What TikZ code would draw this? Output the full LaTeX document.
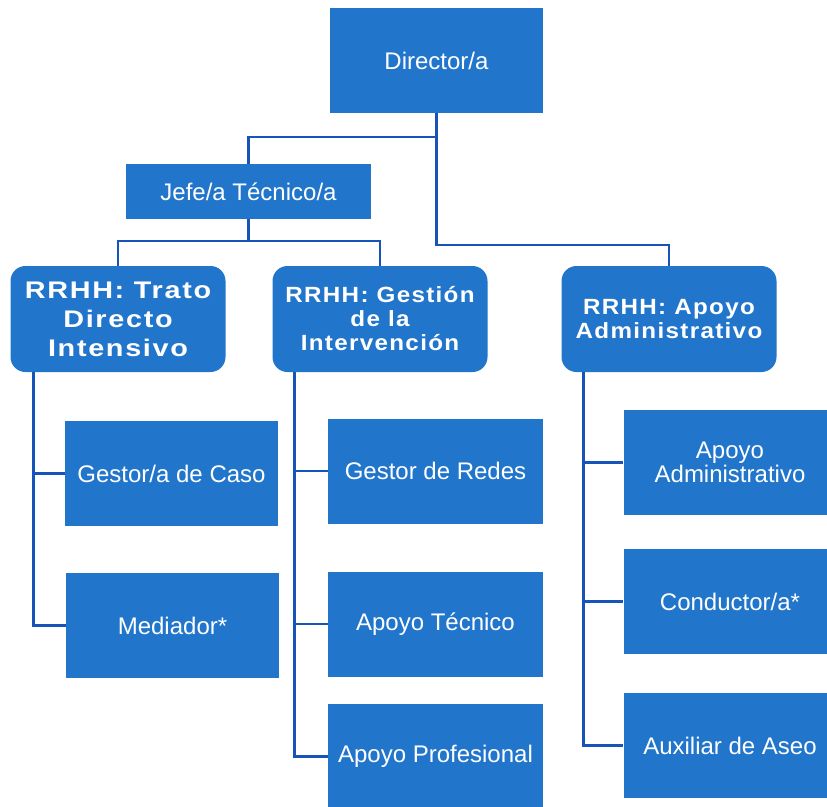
\documentclass[tikz,border=0pt]{standalone}
\usepackage{fontspec}
\setmainfont{Liberation Sans}
\newfontfamily\headfont[FakeStretch=1.2, LetterSpace=7]{Liberation Sans Bold}
\newfontfamily\subheadfont[FakeStretch=1.1, LetterSpace=6]{Liberation Sans Bold}
\usepackage{xcolor}
\usepackage{tikz}
\usetikzlibrary{positioning}
\definecolor{boxblue}{RGB}{33, 118, 204}
\definecolor{lineblue}{RGB}{22, 84, 186}

\tikzset{
  box/.style={fill=boxblue, text=white, inner sep=0pt, align=center,
    minimum width=213pt, minimum height=105pt,
    font=\fontsize{24}{24}\selectfont},
  headbox/.style={box, rounded corners=15pt, minimum width=215pt, minimum height=106pt},
  conn/.style={draw=lineblue, line width=2.5pt}
}

\begin{document}
\begin{tikzpicture}[x=1pt, y=-1pt]
            \clip (0,0) rectangle (827,806);
            \fill[white] (0,0) rectangle (827,806);

            % Top levels
            \node[box] (dir) at (436.5,60.5) {Director/a};
            \node[box, minimum width=245pt, minimum height=55pt] (jefe) at (248.5,191.5) {Jefe/a Técnico/a};

            % Human resources areas
            \node[headbox, font=\headfont\fontsize{24}{29}\selectfont] (trato) at (118,319) {RRHH: Trato\\Directo\\Intensivo};
            \node[headbox, font=\subheadfont\fontsize{22}{24}\selectfont] (gestion) at (380,319) {RRHH: Gestión\\de la\\Intervención};
            \node[headbox, font=\subheadfont\fontsize{22}{24}\selectfont] (apoyo) at (669,319) {RRHH: Apoyo\\Administrativo};

            % Roles
            \node[box] (caso) at (171.5,473.5) {Gestor/a de Caso};
            \node[box] (mediador) at (172.5,625.5) {Mediador*};

            \node[box, minimum width=215pt] (redes) at (435.5,471) {Gestor de Redes};
            \node[box, minimum width=215pt] (tecnico) at (435.5,624) {Apoyo Técnico};
            \node[box, minimum width=215pt] (profesional) at (435.5,756.5) {Apoyo Profesional};

            \node[box] (admin) at (730,462.5) {Apoyo\\Administrativo};
            \node[box] (conductor) at (730,601.5) {Conductor/a*};
            \node[box] (aseo) at (730,745.5) {Auxiliar de Aseo};

            % Connectors
            \draw[conn] (dir.south) -- ++(0,132) -| (apoyo.north);
            \draw[conn] (dir.south) ++(0,24) -| (jefe.north);
            \draw[conn] (jefe.south) -- ++(0,22) coordinate (bar);
            \draw[conn] (trato.north) |- (bar) -| (gestion.north);

            \draw[conn] ([xshift=23pt]trato.south west) |- (mediador.west);
            \draw[conn] ([xshift=23pt]trato.south west) |- (caso.west);

            \draw[conn] ([xshift=22pt]gestion.south west) |- (profesional.west);
            \draw[conn] ([xshift=22pt]gestion.south west) |- (tecnico.west);
            \draw[conn] ([xshift=22pt]gestion.south west) |- (redes.west);

            \draw[conn] ([xshift=22pt]apoyo.south west) |- (aseo.west);
            \draw[conn] ([xshift=22pt]apoyo.south west) |- (conductor.west);
            \draw[conn] ([xshift=22pt]apoyo.south west) |- (admin.west);
        \end{tikzpicture}
\end{document}
